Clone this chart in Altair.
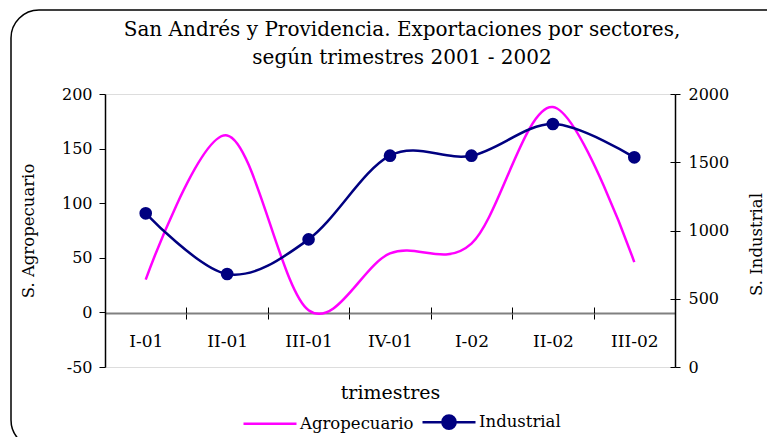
import altair as alt
import pandas as pd

trimestres = ["I-01", "II-01", "III-01", "IV-01", "I-02", "II-02", "III-02"]
agropecuario = [30, 162, 2, 54, 63, 188, 46]
industrial = [1126, 681, 935, 1548, 1548, 1780, 1536]
series = ["Agropecuario", "Industrial"]
colores = ["#FF00FF", "#000080"]
ticks_izq = [-50, 0, 50, 100, 150, 200]
ticks_der = [0, 500, 1000, 1500, 2000]

FONT = "DejaVu Serif"
W, H = 570, 273
ZERO_Y = 219  # pixel offset of value 0 on the left scale inside the plot

df_a = pd.DataFrame({"trimestre": trimestres, "valor": agropecuario, "serie": series[0]})
df_i = pd.DataFrame({"trimestre": trimestres, "valor": industrial, "serie": series[1]})
df_box = pd.DataFrame({"k": [0]})

color_scale = alt.Scale(domain=series, range=colores)


def xscale():
    return alt.Scale(type="band", domain=trimestres, paddingInner=0, paddingOuter=0)


ind_path = "M-1,0H1M-0.25,0A0.25,0.25 0 1,1 0.25,0A0.25,0.25 0 1,1 -0.25,0Z"
legend = alt.Legend(
    orient="none", legendX=137, legendY=300, direction="horizontal", columns=2,
    title=None,
    symbolType=alt.ExprRef(expr="datum.value === 'Industrial' ? '" + ind_path + "' : 'M-1,0H1'"),
    symbolFillColor=alt.ExprRef(expr="datum.value === 'Industrial' ? '#000080' : 'transparent'"),
    symbolSize=2809, symbolStrokeWidth=2.5,
    labelFont=FONT, labelFontSize=16.5, labelColor="black", labelOffset=2,
    labelBaseline="middle", columnPadding=3, padding=0,
)

axis_common = dict(labelFont=FONT, labelColor="black", titleFont=FONT,
                   titleColor="black", titleFontWeight="normal", grid=False)

box = alt.Chart(df_box).mark_rect(
    fill=None, fillOpacity=0, stroke="black", strokeWidth=1.5, cornerRadius=28
).encode(
    x=alt.value(-94), x2=alt.value(690), y=alt.value(-84), y2=alt.value(354)
)

agro = alt.Chart(df_a).mark_line(interpolate="cardinal", strokeWidth=2.5).encode(
    x=alt.X("trimestre:N", sort=trimestres, bandPosition=0.5, scale=xscale(),
            axis=alt.Axis(orient="bottom", offset=ZERO_Y - H, tickBand="extent",
                          domainColor="#808080", domainWidth=2, tickColor="black",
                          tickSize=6, labelPadding=14, labelAngle=0, labelFontSize=17,
                          title="trimestres", titleFontSize=19, titleY=79,
                          titleBaseline="middle", **axis_common)),
    y=alt.Y("valor:Q", scale=alt.Scale(domain=[-50, 200], nice=False, zero=False),
            axis=alt.Axis(orient="left", values=ticks_izq, tickSize=6, tickColor="black",
                          domainColor="black", domainWidth=1.5, labelPadding=7,
                          labelFontSize=16, title="S. Agropecuario", titleFontSize=16.5,
                          titleX=-77, titleY=H / 2, titleAngle=270, titleBaseline="middle",
                          labelExpr="'' + datum.value", **axis_common)),
    color=alt.Color("serie:N", scale=color_scale, legend=legend),
)

ind_line = alt.Chart(df_i).mark_line(interpolate="cardinal", strokeWidth=2.5).encode(
    x=alt.X("trimestre:N", sort=trimestres, bandPosition=0.5, scale=xscale(),
            axis=alt.Axis(orient="top", offset=-ZERO_Y, tickBand="extent", domain=False,
                          labels=False, tickColor="black", tickSize=6, title=None)),
    y=alt.Y("valor:Q", scale=alt.Scale(domain=[0, 2000], nice=False, zero=False),
            axis=alt.Axis(orient="right", values=ticks_der, tickSize=5, tickColor="black",
                          domainColor="black", domainWidth=1.5, labelPadding=8,
                          labelFontSize=16, title="S. Industrial", titleFontSize=16.5,
                          titleX=81, titleY=150, titleAngle=270, titleBaseline="middle",
                          labelExpr="'' + datum.value", **axis_common)),
    color=alt.Color("serie:N", scale=color_scale, legend=legend),
)

ind_pts = alt.Chart(df_i).mark_point(filled=True, size=160, opacity=1, color="#000080").encode(
    x=alt.X("trimestre:N", sort=trimestres, bandPosition=0.5, scale=xscale(), axis=None),
    y=alt.Y("valor:Q", scale=alt.Scale(domain=[0, 2000], nice=False, zero=False),
            axis=alt.Axis(orient="left", offset=-W, values=ticks_der, tickSize=5,
                          tickColor="black", domain=False, labels=False, title=None,
                          grid=False)),
)

chart = alt.layer(box, agro, ind_line, ind_pts).resolve_scale(
    x="independent", y="independent"
).properties(
    width=W, height=H,
    autosize=alt.AutoSizeParams(type="none"),
    padding={"left": 97, "top": 86, "right": 92, "bottom": 70},
    title=alt.TitleParams(
        text=["San Andrés y Providencia. Exportaciones por sectores,",
              "según trimestres 2001 - 2002"],
        font=FONT, fontSize=20, fontWeight="normal", color="black", lineHeight=28,
        anchor="middle", dx=12, offset=0, dy=59, frame="group"),
).configure_view(stroke="#808080", strokeWidth=2).configure(background="white")

chart.save("out.html", embed_options={"renderer": "svg", "actions": False})
